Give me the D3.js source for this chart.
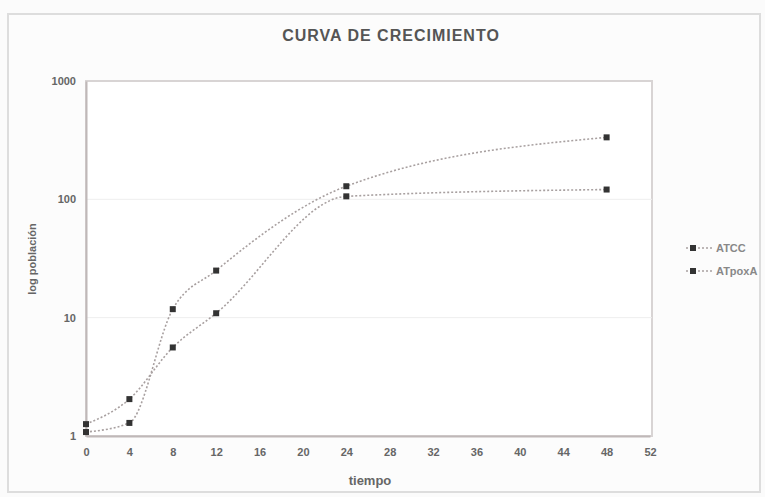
<!DOCTYPE html>
<html><head><meta charset="utf-8">
<script src="https://cdn.jsdelivr.net/npm/d3@7"></script>
<style>html,body{margin:0;padding:0;background:#fbfbfb;}svg{display:block;font-family:"Liberation Sans",Arial,sans-serif;}</style>
</head><body>
<script>
const times = [0, 4, 8, 12, 24, 48];
const seriesNames = ["ATCC", "ATpoxA"];
const seriesA = [1.08, 1.29, 11.8, 25, 129, 334];
const seriesB = [1.26, 2.05, 5.6, 10.9, 106, 121];
const xTicks = [0, 4, 8, 12, 16, 20, 24, 28, 32, 36, 40, 44, 48, 52];
const yTicks = [1, 10, 100, 1000];

const W = 765, H = 497;
const svg = d3.select("body").append("svg").attr("width", W).attr("height", H);

svg.append("rect").attr("x", 8).attr("y", 14).attr("width", 752).attr("height", 478)
  .attr("fill", "#fcfcfc").attr("stroke", "#ddd").attr("stroke-width", 2);

const L = 86, R = 652, T = 81, B = 436;
const x = d3.scaleLinear().domain([0, 52]).range([L, 650]);
const y = d3.scaleLog().domain([1, 1000]).range([B, T]);

svg.append("rect").attr("x", L).attr("y", T).attr("width", R - L).attr("height", B - T)
  .attr("fill", "#fff").attr("stroke", "#d8d4d4").attr("stroke-width", 2);

// gridlines
svg.append("g").selectAll("line").data([10, 100]).join("line")
  .attr("x1", L).attr("x2", R).attr("y1", d => y(d)).attr("y2", d => y(d))
  .attr("stroke", "#eeeeee").attr("stroke-width", 1);

// axes
const xAxis = svg.append("g").attr("transform", `translate(0,${B})`)
  .call(d3.axisBottom(x).tickValues(xTicks).tickSize(0).tickPadding(12));
const yAxis = svg.append("g").attr("transform", `translate(${L},0)`)
  .call(d3.axisLeft(y).tickValues(yTicks).tickFormat(d3.format("d")).tickSize(0).tickPadding(10));
[xAxis, yAxis].forEach(a => {
  a.select(".domain").attr("stroke", "#bfb8b8").attr("stroke-width", 2);
  a.selectAll("text").attr("fill", "#666").attr("font-size", 11).attr("font-weight", "bold");
});

const line = d3.line().x((d, i) => x(times[i])).y(d => y(d)).curve(d3.curveMonotoneX);
const series = [seriesA, seriesB];
const g = svg.append("g");
series.forEach((s, k) => {
  g.append("path").attr("d", line(s)).attr("fill", "none")
    .attr("stroke", "#a8a0a0").attr("stroke-width", 1.6).attr("stroke-dasharray", "2,2");
});
series.forEach((s, k) => {
  g.selectAll(null).data(s).join("rect")
    .attr("x", (d, i) => x(times[i]) - 3).attr("y", d => y(d) - 3)
    .attr("width", 6).attr("height", 6).attr("fill", "#333");
});

// legend
const lg = svg.append("g");
seriesNames.forEach((n, k) => {
  const ly = 248 + k * 23;
  lg.append("line").attr("x1", 686).attr("x2", 712).attr("y1", ly).attr("y2", ly)
    .attr("stroke", "#a8a0a0").attr("stroke-width", 1.6).attr("stroke-dasharray", "2,2");
  lg.append("rect").attr("x", 690).attr("y", ly - 3).attr("width", 6).attr("height", 6).attr("fill", "#333");
  lg.append("text").attr("x", 716).attr("y", ly + 4).text(n)
    .attr("fill", "#888").attr("font-size", 11).attr("font-weight", "bold");
});

// titles
svg.append("text").attr("x", 391).attr("y", 41).attr("text-anchor", "middle")
  .attr("font-size", 16).attr("font-weight", "bold").attr("letter-spacing", 1)
  .attr("fill", "#555").text("CURVA DE CRECIMIENTO");
svg.append("text").attr("x", 370).attr("y", 485).attr("text-anchor", "middle")
  .attr("font-size", 13).attr("font-weight", "bold").attr("fill", "#666").text("tiempo");
svg.append("text").attr("transform", "translate(36,259) rotate(-90)").attr("text-anchor", "middle")
  .attr("font-size", 11).attr("font-weight", "bold").attr("fill", "#666").text("log población");
</script>
</body></html>
